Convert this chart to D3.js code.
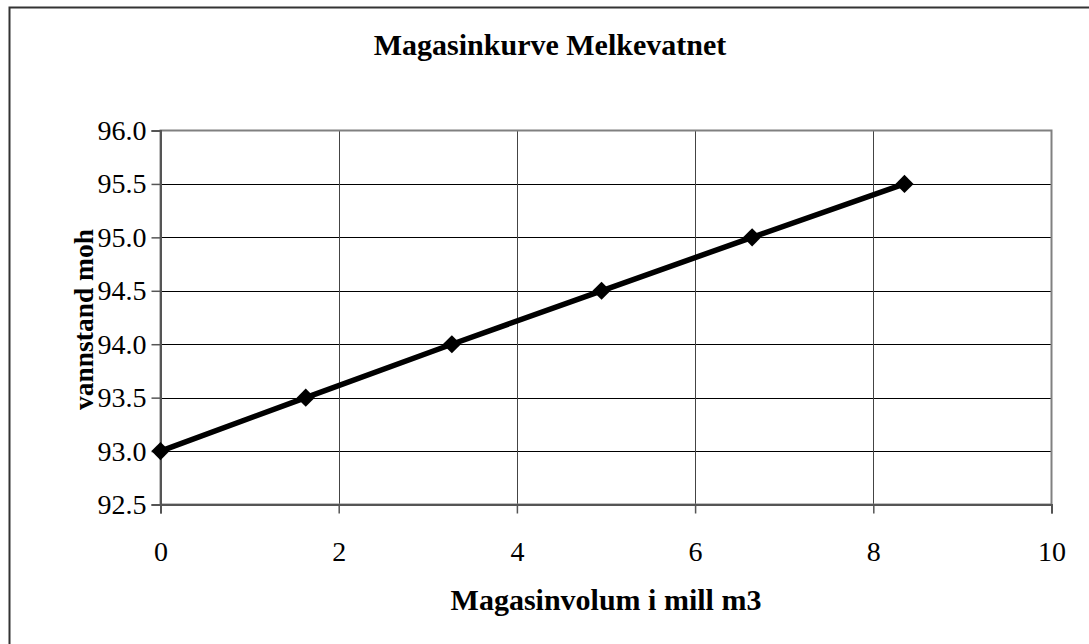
<!DOCTYPE html>
<html>
<head>
<meta charset="utf-8">
<script src="https://cdn.jsdelivr.net/npm/d3@7"></script>
<style>
	body { margin: 0; background: #fff; }
	svg { display: block; font-family: "Liberation Serif", "Times New Roman", serif; }
	.axis .tick text { font-family: "Liberation Serif", "Times New Roman", serif !important; font-size: 28px !important; fill: #000; }
</style>
</head>
<body>
<div id="chart"></div>
<script>
var volum = [0, 1.63, 3.27, 4.95, 6.64, 8.35];
var vannstand = [93.0, 93.5, 94.0, 94.5, 95.0, 95.5];
var xTicks = [0, 2, 4, 6, 8, 10];
var yTicks = [92.5, 93.0, 93.5, 94.0, 94.5, 95.0, 95.5, 96.0];

var width = 1089, height = 644;
var plot = { left: 160.5, right: 1051.5, top: 130.5, bottom: 504.5 };
var serif = '"Liberation Serif", "Times New Roman", serif';

var svg = d3.select('#chart').append('svg')
	.attr('width', width)
	.attr('height', height);

// outer chart border (runs off right and bottom)
svg.append('rect')
	.attr('x', 9.5).attr('y', 7.5)
	.attr('width', 1100).attr('height', 700)
	.attr('fill', '#fff')
	.attr('stroke', '#333')
	.attr('stroke-width', 2);

var x = d3.scaleLinear().domain([0, 10]).range([plot.left, plot.right]);
var y = d3.scaleLinear().domain([92.5, 96.0]).range([plot.bottom, plot.top]);

// grid
svg.append('g').selectAll('line.h')
	.data(yTicks.slice(1, -1))
	.enter().append('line')
	.attr('x1', plot.left).attr('x2', plot.right)
	.attr('y1', function(d) { return Math.round(y(d)) + 0.5; })
	.attr('y2', function(d) { return Math.round(y(d)) + 0.5; })
	.attr('stroke', '#000').attr('stroke-width', 1);
svg.append('g').selectAll('line.v')
	.data(xTicks.slice(1, -1))
	.enter().append('line')
	.attr('y1', plot.top).attr('y2', plot.bottom)
	.attr('x1', function(d) { return Math.round(x(d)) + 0.5; })
	.attr('x2', function(d) { return Math.round(x(d)) + 0.5; })
	.attr('stroke', '#444').attr('stroke-width', 1);

// plot frame
svg.append('rect')
	.attr('x', plot.left).attr('y', plot.top)
	.attr('width', plot.right - plot.left).attr('height', plot.bottom - plot.top)
	.attr('fill', 'none')
	.attr('stroke', '#808080')
	.attr('stroke-width', 2);

// axes
var yAxis = d3.axisLeft(y).tickValues(yTicks).tickSize(9).tickPadding(5)
	.tickFormat(d3.format('.1f'));
var gy = svg.append('g').attr('class', 'axis').attr('transform', 'translate(' + plot.left + ',0)').call(yAxis);
var xAxis = d3.axisBottom(x).tickValues(xTicks).tickSize(9).tickPadding(28)
	.tickFormat(d3.format('d'));
var gx = svg.append('g').attr('class', 'axis').attr('transform', 'translate(0,' + plot.bottom + ')').call(xAxis);

[gy, gx].forEach(function(g) {
	g.attr('font-family', serif).attr('font-size', 28);
	g.select('.domain').attr('stroke', '#555').attr('stroke-width', 2);
	g.selectAll('.tick line').attr('stroke', '#555').attr('stroke-width', 1.5);
	g.selectAll('.tick text').attr('fill', '#000');
});

// series
var pts = volum.map(function(v, i) { return [v, vannstand[i]]; });
var line = d3.line()
	.x(function(d) { return x(d[0]); })
	.y(function(d) { return y(d[1]); });
svg.append('path')
	.datum(pts)
	.attr('d', line)
	.attr('fill', 'none')
	.attr('stroke', '#000')
	.attr('stroke-width', 5.5);

svg.append('g').selectAll('path.marker')
	.data(pts)
	.enter().append('path')
	.attr('d', d3.symbol().type(d3.symbolSquare).size(165))
	.attr('transform', function(d) { return 'translate(' + x(d[0]) + ',' + y(d[1]) + ') rotate(45)'; })
	.attr('fill', '#000');

// titles
svg.append('text')
	.attr('x', 550).attr('y', 55)
	.attr('text-anchor', 'middle')
	.attr('font-family', serif)
	.attr('font-size', 30).attr('font-weight', 'bold')
	.text('Magasinkurve Melkevatnet');

svg.append('text')
	.attr('x', 606).attr('y', 610)
	.attr('text-anchor', 'middle')
	.attr('font-family', serif)
	.attr('font-size', 30).attr('font-weight', 'bold')
	.text('Magasinvolum i mill m3');

svg.append('text')
	.attr('transform', 'translate(93,' + ((plot.top + plot.bottom) / 2 + 2) + ') rotate(-90)')
	.attr('text-anchor', 'middle')
	.attr('font-family', serif)
	.attr('font-size', 27.5).attr('font-weight', 'bold')
	.text('vannstand moh');
</script>
</body>
</html>
